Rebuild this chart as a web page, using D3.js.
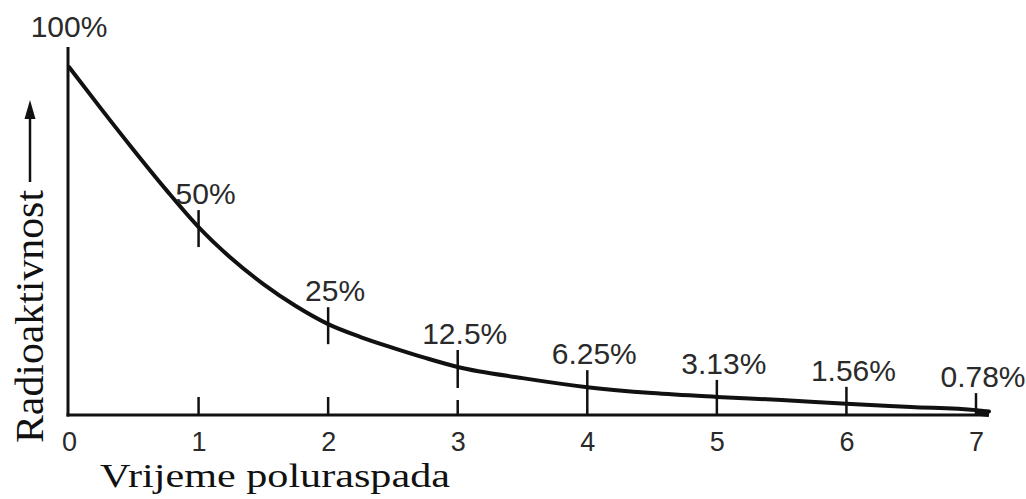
<!DOCTYPE html>
<html>
<head>
<meta charset="utf-8">
<script src="https://cdn.jsdelivr.net/npm/d3@7"></script>
<style>
  html, body { margin: 0; padding: 0; background: #fff; }
  svg { display: block; }
</style>
</head>
<body>
<svg id="chart" width="1026" height="499"></svg>
<script>
// ---- data ----
const halfLives = [0, 1, 2, 3, 4, 5, 6, 7];
const tickLabels = ["0", "1", "2", "3", "4", "5", "6", "7"];
const percentLabels = ["100%", "50%", "25%", "12.5%", "6.25%", "3.13%", "1.56%", "0.78%"];
// curve as drawn in the picture (half-lives, activity %)
const curveT = [0, 0.25, 0.5, 0.75, 1, 1.25, 1.5, 1.75, 2, 2.25, 2.5, 2.75, 3, 3.5, 4, 4.5, 5, 5.5, 6, 6.5, 7, 7.1];
const curveV = [100, 87.9, 76.1, 64.7, 54.0, 45.1, 37.6, 31.3, 26.1, 22.4, 19.3, 16.4, 13.8, 10.6, 8.0, 6.3, 5.2, 4.3, 3.2, 2.3, 1.4, 1.0];
const xTitle = "Vrijeme poluraspada";
const yTitle = "Radioaktivnost";

// ---- scales ----
const svg = d3.select("#chart");
const x = d3.scaleLinear().domain([0, 7]).range([69, 976]);
const y = d3.scaleLinear().domain([0, 100]).range([415, 67]);
const curvePts = curveT.map((t, i) => ({ t, v: curveV[i] }));
const curveAt = t => curveV[curveT.indexOf(t)];

const ink = "#111";
const sans = "'Liberation Sans', Arial, sans-serif";
const serif = "'Liberation Serif', 'Times New Roman', serif";

// axes lines
svg.append("line")
  .attr("x1", x(0) - 1).attr("x2", x(0) - 1)
  .attr("y1", 47).attr("y2", y(0) + 1.5)
  .attr("stroke", ink).attr("stroke-width", 3);
svg.append("line")
  .attr("x1", x(0) - 2.5).attr("x2", x(7.1))
  .attr("y1", y(0)).attr("y2", y(0))
  .attr("stroke", ink).attr("stroke-width", 3);

// x tick labels via d3 axis
const xAxis = d3.axisBottom(x).tickValues(halfLives)
  .tickFormat((d, i) => tickLabels[i]).tickSize(0).tickPadding(0);
const ax = svg.append("g").attr("transform", `translate(0, ${y(0)})`).call(xAxis);
ax.select(".domain").remove();
ax.selectAll("text")
  .attr("y", 36).attr("dy", null)
  .style("font-family", sans).style("font-size", "27px").attr("fill", "#2a2a2a");

// curve
const line = d3.line().x(d => x(d.t)).y(d => y(d.v)).curve(d3.curveMonotoneX);
svg.append("path").datum(curvePts).attr("d", line)
  .attr("fill", "none").attr("stroke", ink).attr("stroke-width", 4)
  .attr("stroke-linecap", "round");
svg.append("path").datum(curvePts.filter(d => d.t >= 6.9)).attr("d", line)
  .attr("fill", "none").attr("stroke", ink).attr("stroke-width", 7)
  .attr("transform", "translate(0,2)");

// ticks
halfLives.forEach((t, i) => {
  if (t === 0) return;
  const cy = y(curveAt(t));
  if (t <= 2) {
    svg.append("line").attr("x1", x(t)).attr("x2", x(t))
      .attr("y1", cy - 17).attr("y2", cy + 20)
      .attr("stroke", ink).attr("stroke-width", 2.5);
    svg.append("line").attr("x1", x(t)).attr("x2", x(t))
      .attr("y1", y(0) - 18).attr("y2", y(0))
      .attr("stroke", ink).attr("stroke-width", 2.5);
  } else {
    const l = svg.append("line").attr("x1", x(t)).attr("x2", x(t))
      .attr("y1", cy - 17).attr("y2", y(0))
      .attr("stroke", ink).attr("stroke-width", 2.5);
    if (t === 3) l.attr("stroke-dasharray", "38 12 20");
  }
});

// percentage labels
svg.append("g").selectAll("text").data(percentLabels).join("text")
  .attr("x", (d, i) => x(halfLives[i]) + (i === 0 ? 0 : 7))
  .attr("y", (d, i) => y(curveAt(halfLives[i])) - (i === 0 ? 30 : 23))
  .attr("text-anchor", "middle")
  .style("font-family", sans).style("font-size", "30px")
  .attr("fill", "#2a2a2a")
  .text(d => d);

// x title
svg.append("text")
  .attr("x", 100).attr("y", 487)
  .attr("textLength", 350).attr("lengthAdjust", "spacingAndGlyphs")
  .style("font-family", serif).style("font-size", "34px").attr("fill", ink)
  .text(xTitle);

// y title (rotated) with arrow
svg.append("text")
  .attr("transform", "translate(43,443) rotate(-90)")
  .attr("textLength", 253).attr("lengthAdjust", "spacingAndGlyphs")
  .style("font-family", serif).style("font-size", "40px").attr("fill", ink)
  .text(yTitle);
svg.append("line").attr("x1", 30).attr("x2", 30).attr("y1", 182).attr("y2", 112)
  .attr("stroke", ink).attr("stroke-width", 2.5);
svg.append("path").attr("d", "M30,100 L24.5,119 L35.5,119 Z").attr("fill", ink);
</script>
</body>
</html>
